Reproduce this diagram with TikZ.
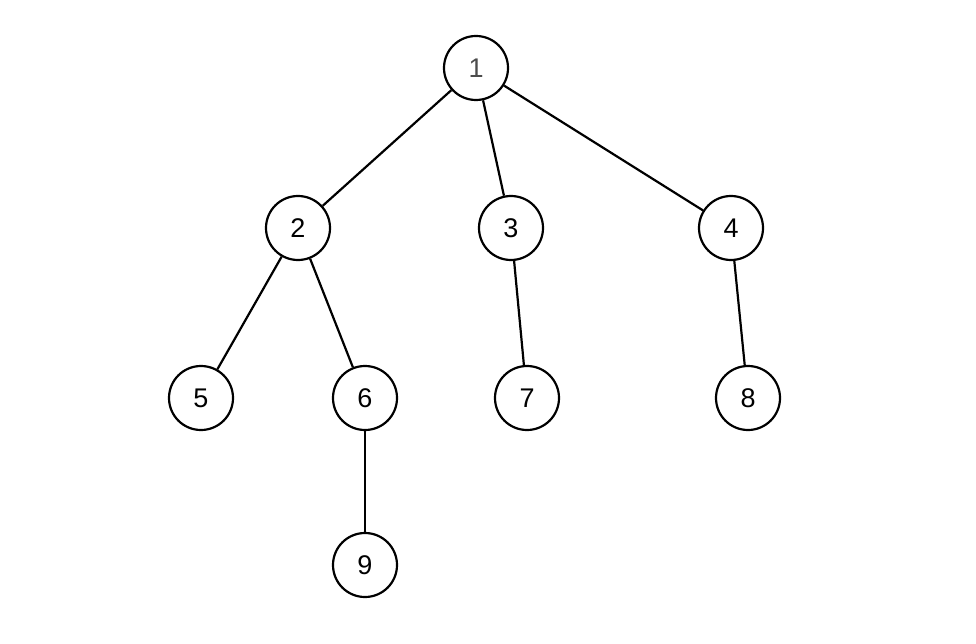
\documentclass[tikz,border=0pt]{standalone}
\usepackage{fontspec}
\setmainfont{Liberation Sans}
\begin{document}
\begin{tikzpicture}[x=1pt,y=-1pt,
  vert/.style={circle,draw,line width=2.2pt,minimum size=64pt,inner sep=0pt,font=\fontsize{27}{30}\selectfont},
  edge/.style={line width=2.2pt}]
\useasboundingbox (0,0) rectangle (976,644);
\node[vert,text=black!70] (n1) at (476,68) {1};
\node[vert] (n2) at (298,228) {2};
\node[vert] (n3) at (511,228) {3};
\node[vert] (n4) at (731,228) {4};
\node[vert] (n5) at (201,398) {5};
\node[vert] (n6) at (365,398) {6};
\node[vert] (n7) at (527,398) {7};
\node[vert] (n8) at (748,398) {8};
\node[vert] (n9) at (365,565) {9};
\draw[edge] (n1)--(n2); \draw[edge] (n1)--(n3); \draw[edge] (n1)--(n4);
\draw[edge] (n2)--(n5); \draw[edge] (n2)--(n6); \draw[edge] (n3)--(n7);
\draw[edge] (n4)--(n8); \draw[edge] (n6)--(n9);
\end{tikzpicture}
\end{document}
